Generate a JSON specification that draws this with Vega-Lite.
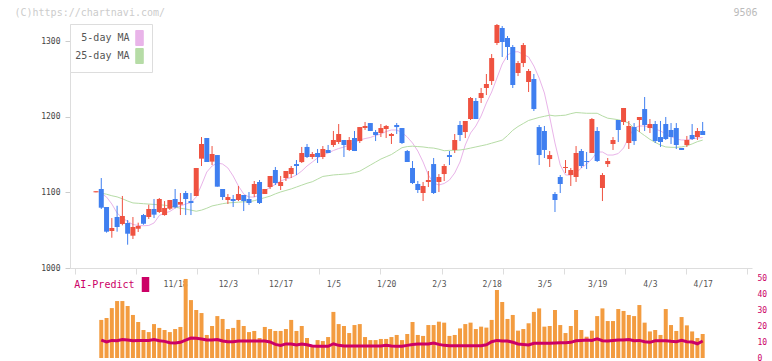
{
  "$schema": "https://vega.github.io/schema/vega-lite/v6.json",
  "width": 682,
  "height": 334,
  "autosize": {"type": "none"},
  "padding": {"left": 70, "top": 24, "right": 20, "bottom": 3},
  "background": "white",
  "config": {"view": {"stroke": null}, "font": "DejaVu Sans Mono"},
  "data": {"values": [
    {"i":0,"o":1100,"h":1101.5,"l":1100,"c":1101.5},
    {"i":1,"o":1104.4,"h":1118.9,"l":1078,"c":1079.7,"v":23.8,"ai":11.2,"m5":1098.7,"m25":1099},
    {"i":2,"o":1080.6,"h":1080.6,"l":1046.7,"c":1048,"v":25,"ai":10,"m5":1093.8,"m25":1097.5},
    {"i":3,"o":1048.9,"h":1066,"l":1040,"c":1052.9,"v":31.2,"ai":11,"m5":1084.6,"m25":1095.5},
    {"i":4,"o":1067.4,"h":1082.3,"l":1048,"c":1054.2,"v":35.6,"ai":10.8,"m5":1072.7,"m25":1094},
    {"i":5,"o":1058.2,"h":1095.2,"l":1056.4,"c":1068.7,"v":35.6,"ai":11.6,"m5":1066.1,"m25":1091.5},
    {"i":6,"o":1059.5,"h":1063.4,"l":1030.8,"c":1045.3,"v":32.5,"ai":11.2,"m5":1061.5,"m25":1088.5},
    {"i":7,"o":1042.7,"h":1067.4,"l":1038.3,"c":1054.2,"v":26.9,"ai":10.8,"m5":1057.5,"m25":1086},
    {"i":8,"o":1051.9,"h":1059.9,"l":1047.6,"c":1055.5,"v":22.5,"ai":11,"m5":1056.2,"m25":1085.5},
    {"i":9,"o":1070,"h":1071.4,"l":1057.2,"c":1058.5,"v":17.5,"ai":11,"m5":1055.9,"m25":1085},
    {"i":10,"o":1067.4,"h":1083.7,"l":1064.8,"c":1078,"v":16.2,"ai":11,"m5":1056.2,"m25":1084.5},
    {"i":11,"o":1078,"h":1091.2,"l":1066,"c":1070.5,"v":21.2,"ai":11.6,"m5":1059.5,"m25":1084},
    {"i":12,"o":1074,"h":1092.5,"l":1072.7,"c":1091.2,"v":18.8,"ai":10.8,"m5":1069.4,"m25":1083.5},
    {"i":13,"o":1070,"h":1088.5,"l":1069.1,"c":1079.3,"v":17.5,"ai":10.4,"m5":1072.7,"m25":1083},
    {"i":14,"o":1078.4,"h":1089.9,"l":1076.7,"c":1089.9,"v":16.2,"ai":9.6,"m5":1074.7,"m25":1082},
    {"i":15,"o":1091.2,"h":1104.4,"l":1078.9,"c":1080.2,"v":18.1,"ai":9.4,"m5":1079.3,"m25":1080.5},
    {"i":16,"o":1083.7,"h":1099.1,"l":1070,"c":1087.2,"v":19.4,"ai":9.8,"m5":1081.9,"m25":1079},
    {"i":17,"o":1099.1,"h":1101.8,"l":1070,"c":1091.2,"v":49.4,"ai":11.2,"m5":1084.6,"m25":1078},
    {"i":18,"o":1088.5,"h":1099.1,"l":1070,"c":1085.9,"v":36.2,"ai":12.5,"m5":1086.6,"m25":1076.5},
    {"i":19,"o":1095.2,"h":1132.2,"l":1095.2,"c":1132.2,"v":30,"ai":12.3,"m5":1093.8,"m25":1075},
    {"i":20,"o":1144.5,"h":1173.1,"l":1134.8,"c":1163.9,"v":28.1,"ai":11.9,"m5":1109.7,"m25":1076.5},
    {"i":21,"o":1171.8,"h":1171.8,"l":1140.1,"c":1140.1,"v":14.4,"ai":11.2,"m5":1126.9,"m25":1079},
    {"i":22,"o":1140.6,"h":1161.2,"l":1136.1,"c":1150.7,"v":20,"ai":11.2,"m5":1134.8,"m25":1082},
    {"i":23,"o":1149.3,"h":1149.3,"l":1107.5,"c":1107.5,"v":26.2,"ai":11.6,"m5":1138.8,"m25":1083.5},
    {"i":24,"o":1104.4,"h":1104.4,"l":1089.9,"c":1093.8,"v":24.4,"ai":10.6,"m5":1137.4,"m25":1085},
    {"i":25,"o":1089.9,"h":1097.8,"l":1084.6,"c":1093.8,"v":18.1,"ai":10.2,"m5":1132.2,"m25":1086},
    {"i":26,"o":1091.2,"h":1096.5,"l":1080.6,"c":1088.5,"v":18.8,"ai":10.2,"m5":1121.6,"m25":1086.5},
    {"i":27,"o":1089.9,"h":1108.4,"l":1088.5,"c":1097.8,"v":23.8,"ai":10.6,"m5":1108.4,"m25":1087},
    {"i":28,"o":1096.5,"h":1096.5,"l":1075.3,"c":1088.5,"v":20,"ai":10.6,"m5":1097.8,"m25":1087.5},
    {"i":29,"o":1091.2,"h":1100.4,"l":1083.3,"c":1085.9,"v":16.2,"ai":10.6,"m5":1093.8,"m25":1087.5},
    {"i":30,"o":1097.8,"h":1115,"l":1093.8,"c":1111,"v":16.9,"ai":10.6,"m5":1093.8,"m25":1089},
    {"i":31,"o":1113.7,"h":1116.3,"l":1084.6,"c":1085.9,"v":12.5,"ai":10.6,"m5":1096.5,"m25":1091},
    {"i":32,"o":1097.8,"h":1104.4,"l":1097.8,"c":1104.4,"v":19.4,"ai":10.6,"m5":1101.8,"m25":1093},
    {"i":33,"o":1107,"h":1121.6,"l":1104.4,"c":1121.6,"v":18.1,"ai":10,"m5":1107,"m25":1095},
    {"i":34,"o":1129.5,"h":1133.5,"l":1109.7,"c":1112.3,"v":16.9,"ai":8.5,"m5":1110.4,"m25":1098},
    {"i":35,"o":1108.4,"h":1121.6,"l":1103.1,"c":1113.7,"v":16.9,"ai":7.9,"m5":1115,"m25":1100.5},
    {"i":36,"o":1118.9,"h":1128.2,"l":1115,"c":1128.2,"v":18.1,"ai":8.8,"m5":1117.6,"m25":1102.5},
    {"i":37,"o":1124.2,"h":1134.8,"l":1119,"c":1132.2,"v":23.8,"ai":8.8,"m5":1119.6,"m25":1104.5},
    {"i":38,"o":1137.4,"h":1142.7,"l":1122.9,"c":1134.8,"v":16.9,"ai":8.1,"m5":1122.9,"m25":1107},
    {"i":39,"o":1140,"h":1160,"l":1138.8,"c":1152,"v":20,"ai":8.8,"m5":1128.2,"m25":1109.5},
    {"i":40,"o":1160,"h":1163.9,"l":1145.4,"c":1146.7,"v":12.5,"ai":8.3,"m5":1134.8,"m25":1112},
    {"i":41,"o":1146.7,"h":1153.3,"l":1144,"c":1150.7,"v":8.1,"ai":7.5,"m5":1140.1,"m25":1114},
    {"i":42,"o":1152,"h":1157.3,"l":1138.8,"c":1146.7,"v":11.2,"ai":7.3,"m5":1145.4,"m25":1117.5},
    {"i":43,"o":1146.7,"h":1161.2,"l":1144,"c":1157.3,"v":10.6,"ai":7.3,"m5":1149.3,"m25":1121},
    {"i":44,"o":1156,"h":1162.6,"l":1152,"c":1152,"v":13.1,"ai":7.3,"m5":1152,"m25":1122},
    {"i":45,"o":1162.6,"h":1181.1,"l":1160,"c":1169.2,"v":28.8,"ai":8.9,"m5":1155.3,"m25":1123},
    {"i":46,"o":1166.5,"h":1190.3,"l":1163.9,"c":1177.1,"v":21.2,"ai":7.9,"m5":1157.9,"m25":1123.5},
    {"i":47,"o":1169.2,"h":1169.2,"l":1146.7,"c":1162.6,"v":20,"ai":7.5,"m5":1159.9,"m25":1124},
    {"i":48,"o":1156,"h":1173.1,"l":1154.6,"c":1169.2,"v":15.6,"ai":7.5,"m5":1162.6,"m25":1124.6},
    {"i":49,"o":1171.8,"h":1181.1,"l":1154.6,"c":1154.6,"v":20.6,"ai":7.5,"m5":1165.9,"m25":1126},
    {"i":50,"o":1167.8,"h":1186.3,"l":1165.2,"c":1186.3,"v":21.2,"ai":7.5,"m5":1169.2,"m25":1128},
    {"i":51,"o":1185,"h":1193,"l":1182.4,"c":1187.7,"v":13.1,"ai":7.5,"m5":1171.1,"m25":1132},
    {"i":52,"o":1191.6,"h":1191.6,"l":1181.1,"c":1181.1,"v":11.2,"ai":7.5,"m5":1172.5,"m25":1136},
    {"i":53,"o":1179.7,"h":1182.4,"l":1167.8,"c":1175.8,"v":11.2,"ai":7.5,"m5":1175.1,"m25":1140},
    {"i":54,"o":1178.4,"h":1190.3,"l":1173.1,"c":1185,"v":11.9,"ai":7.5,"m5":1177.1,"m25":1144},
    {"i":55,"o":1183.7,"h":1189,"l":1171.8,"c":1187.7,"v":11.9,"ai":7.9,"m5":1180.4,"m25":1147},
    {"i":56,"o":1174.5,"h":1178.4,"l":1163.9,"c":1177.1,"v":13.1,"ai":7.5,"m5":1182.4,"m25":1150},
    {"i":57,"o":1189,"h":1191.6,"l":1177.1,"c":1186.3,"v":14.4,"ai":7.3,"m5":1182.4,"m25":1154.5},
    {"i":58,"o":1185,"h":1185,"l":1163.9,"c":1165.2,"v":11.2,"ai":7.3,"m5":1179.1,"m25":1159},
    {"i":59,"o":1154.6,"h":1156,"l":1140.1,"c":1140.1,"v":15,"ai":7.9,"m5":1173.1,"m25":1160.5},
    {"i":60,"o":1132.2,"h":1141.4,"l":1111,"c":1112.3,"v":22.5,"ai":8.5,"m5":1165.2,"m25":1161},
    {"i":61,"o":1111,"h":1115,"l":1099.1,"c":1103.1,"v":14.4,"ai":8.8,"m5":1154.6,"m25":1160.5},
    {"i":62,"o":1099.1,"h":1113.7,"l":1088.5,"c":1108.4,"v":13.8,"ai":8.8,"m5":1140.1,"m25":1160},
    {"i":63,"o":1113.7,"h":1128.2,"l":1107,"c":1116.3,"v":20.6,"ai":8.8,"m5":1122.9,"m25":1159},
    {"i":64,"o":1137.4,"h":1145.4,"l":1097.8,"c":1099.1,"v":20.6,"ai":9.4,"m5":1112.3,"m25":1158.5},
    {"i":65,"o":1113.7,"h":1124.2,"l":1100.4,"c":1120.3,"v":22.7,"ai":8.5,"m5":1109.7,"m25":1157},
    {"i":66,"o":1124.2,"h":1137.4,"l":1115,"c":1134.8,"v":22.1,"ai":7.9,"m5":1111.7,"m25":1155},
    {"i":67,"o":1149.3,"h":1154.6,"l":1136.1,"c":1146.7,"v":13.8,"ai":7.7,"m5":1116.3,"m25":1155.5},
    {"i":68,"o":1156,"h":1177.1,"l":1152,"c":1169.2,"v":14.4,"ai":7.7,"m5":1125.6,"m25":1155.5},
    {"i":69,"o":1189,"h":1194.3,"l":1167.8,"c":1175.8,"v":18.5,"ai":7.7,"m5":1140.1,"m25":1156},
    {"i":70,"o":1179.7,"h":1194.3,"l":1171.8,"c":1194.3,"v":21.2,"ai":7.7,"m5":1162.6,"m25":1157},
    {"i":71,"o":1196.9,"h":1226,"l":1195.6,"c":1224.7,"v":22.1,"ai":7.7,"m5":1178.4,"m25":1158.5},
    {"i":72,"o":1220.7,"h":1224.7,"l":1196.9,"c":1196.9,"v":18.1,"ai":7.7,"m5":1187.7,"m25":1160},
    {"i":73,"o":1224.7,"h":1237.9,"l":1218.1,"c":1231.3,"v":19.6,"ai":7.7,"m5":1200.9,"m25":1161.5},
    {"i":74,"o":1237.9,"h":1256.4,"l":1228.6,"c":1243.2,"v":19,"ai":8.3,"m5":1218.1,"m25":1163},
    {"i":75,"o":1247.1,"h":1282.8,"l":1241.9,"c":1277.5,"v":23.8,"ai":10.2,"m5":1232.6,"m25":1165},
    {"i":76,"o":1297.4,"h":1322.5,"l":1294.7,"c":1321.2,"v":42.5,"ai":11,"m5":1251.1,"m25":1167},
    {"i":77,"o":1317.2,"h":1319.8,"l":1278.9,"c":1298.7,"v":35,"ai":10.6,"m5":1269.6,"m25":1169},
    {"i":78,"o":1304,"h":1306.6,"l":1274.9,"c":1292.1,"v":24.4,"ai":10.6,"m5":1281.5,"m25":1175},
    {"i":79,"o":1292.1,"h":1294.7,"l":1237.9,"c":1241.9,"v":26.9,"ai":9.8,"m5":1285.5,"m25":1182},
    {"i":80,"o":1257.7,"h":1273.6,"l":1253.7,"c":1270.9,"v":17.1,"ai":8.8,"m5":1285.9,"m25":1187},
    {"i":81,"o":1270.9,"h":1297.4,"l":1265.6,"c":1294.7,"v":18.1,"ai":8.5,"m5":1282.2,"m25":1191},
    {"i":82,"o":1245.8,"h":1263,"l":1232.6,"c":1260.4,"v":21.7,"ai":8.1,"m5":1278.9,"m25":1195},
    {"i":83,"o":1249.8,"h":1256.4,"l":1207.5,"c":1210.1,"v":28.8,"ai":9.2,"m5":1267,"m25":1197},
    {"i":84,"o":1186.3,"h":1189,"l":1136.1,"c":1149.3,"v":31,"ai":9.2,"m5":1251.1,"m25":1199},
    {"i":85,"o":1181.1,"h":1187.7,"l":1145.4,"c":1156,"v":19.6,"ai":9.2,"m5":1231.3,"m25":1200.5},
    {"i":86,"o":1144,"h":1154.6,"l":1133.5,"c":1149.3,"v":20,"ai":9.2,"m5":1199.6,"m25":1202},
    {"i":87,"o":1097.8,"h":1100.4,"l":1074,"c":1089.9,"v":30,"ai":9.4,"m5":1165.2,"m25":1201},
    {"i":88,"o":1120.3,"h":1122.9,"l":1099.1,"c":1111,"v":20.6,"ai":9.6,"m5":1136.1,"m25":1201.5},
    {"i":89,"o":1132.2,"h":1142.7,"l":1125.5,"c":1133.5,"v":15.6,"ai":9.6,"m5":1122.9,"m25":1202},
    {"i":90,"o":1122.9,"h":1132.2,"l":1108.4,"c":1129.5,"v":20,"ai":9.8,"m5":1122.9,"m25":1204},
    {"i":91,"o":1120.3,"h":1161.2,"l":1113.7,"c":1152,"v":30,"ai":10.8,"m5":1125.6,"m25":1205.5},
    {"i":92,"o":1154.6,"h":1157.3,"l":1132.2,"c":1134.8,"v":17.5,"ai":11,"m5":1132.2,"m25":1205},
    {"i":93,"o":1141.4,"h":1153.3,"l":1130.8,"c":1140.1,"v":13.3,"ai":11.2,"m5":1137.4,"m25":1204.5},
    {"i":94,"o":1152,"h":1198.2,"l":1152,"c":1196.9,"v":17.1,"ai":11,"m5":1144.1,"m25":1204.5},
    {"i":95,"o":1181.1,"h":1186.3,"l":1140.1,"c":1141.4,"v":26.2,"ai":12,"m5":1153.3,"m25":1204.5},
    {"i":96,"o":1105.7,"h":1125.5,"l":1088.5,"c":1122.9,"v":31,"ai":10.8,"m5":1153.3,"m25":1201},
    {"i":97,"o":1137.4,"h":1145.4,"l":1133.5,"c":1141.4,"v":23.1,"ai":10.6,"m5":1149.3,"m25":1198},
    {"i":98,"o":1163.9,"h":1173.1,"l":1156,"c":1169.2,"v":23.1,"ai":11,"m5":1149.3,"m25":1197},
    {"i":99,"o":1195.6,"h":1195.6,"l":1166.5,"c":1182.4,"v":30.6,"ai":11.2,"m5":1151.3,"m25":1196},
    {"i":100,"o":1193,"h":1211.5,"l":1189,"c":1211.5,"v":29.4,"ai":11.2,"m5":1158.6,"m25":1194},
    {"i":101,"o":1165.2,"h":1194.3,"l":1157.3,"c":1187.7,"v":26.9,"ai":11.5,"m5":1173.1,"m25":1191.5},
    {"i":102,"o":1186.3,"h":1191.6,"l":1162.6,"c":1167.8,"v":26.2,"ai":10.8,"m5":1185,"m25":1185},
    {"i":103,"o":1195.6,"h":1199.6,"l":1179.7,"c":1199.6,"v":33.1,"ai":11,"m5":1187.7,"m25":1180},
    {"i":104,"o":1210.1,"h":1226,"l":1181.1,"c":1189,"v":22.1,"ai":10.2,"m5":1187.7,"m25":1175},
    {"i":105,"o":1185,"h":1196.9,"l":1178.4,"c":1190.3,"v":16.6,"ai":9.8,"m5":1186.3,"m25":1170},
    {"i":106,"o":1190.3,"h":1194.3,"l":1165.2,"c":1167.8,"v":17.5,"ai":10.8,"m5":1183.7,"m25":1166},
    {"i":107,"o":1173.1,"h":1194.3,"l":1160,"c":1166.5,"v":14.4,"ai":10.8,"m5":1181.1,"m25":1162.5},
    {"i":108,"o":1190.3,"h":1199.6,"l":1169.2,"c":1170.5,"v":30.6,"ai":10.8,"m5":1177.1,"m25":1160},
    {"i":109,"o":1182.4,"h":1191.6,"l":1163.9,"c":1173.1,"v":20.6,"ai":10.4,"m5":1173.8,"m25":1159.5},
    {"i":110,"o":1185,"h":1191.6,"l":1157.3,"c":1162.6,"v":16.9,"ai":10.2,"m5":1170.5,"m25":1159.5},
    {"i":111,"o":1158.6,"h":1158.6,"l":1156,"c":1156,"v":25.6,"ai":11,"m5":1169.2,"m25":1160},
    {"i":112,"o":1162.6,"h":1174.5,"l":1160,"c":1169.2,"v":20.4,"ai":10.2,"m5":1169.2,"m25":1161.5},
    {"i":113,"o":1175.8,"h":1190.3,"l":1169.2,"c":1170.5,"v":16.6,"ai":10,"m5":1170.5,"m25":1164},
    {"i":114,"o":1173.1,"h":1185,"l":1169.2,"c":1181.1,"v":12.5,"ai":8.9,"m5":1171.8,"m25":1167},
    {"i":115,"o":1181.1,"h":1193,"l":1175.8,"c":1175.8,"v":15,"ai":10.6,"m5":1172.5,"m25":1169}
  ]},
  "layer": [
    {
      "encoding": {
        "x": {"field": "i", "type": "quantitative",
          "scale": {"domain": [-3.98, 123.4], "nice": false, "zero": false},
          "axis": {"orient": "bottom", "offset": -90, "values": [-3.98, 7.6, 19.18, 30.76, 42.34, 53.92, 65.5, 77.08, 88.66, 100.24, 111.82, 123.4],
            "labels": false, "ticks": true, "tickSize": 6, "tickColor": "#dddddd", "domain": true, "domainColor": "#dddddd", "grid": false, "title": null}
        }
      },
      "layer": [
        {
          "mark": {"type": "line", "strokeWidth": 1},
          "encoding": {
            "y": {"field": "m5", "type": "quantitative", "scale": {"domain": [1000, 1322.5], "range": [244, 0], "nice": false, "zero": false},
              "axis": {"orient": "left", "values": [1000, 1100, 1200, 1300], "format": "d", "domainColor": "#dddddd", "tickColor": "#cccccc", "tickSize": 5,
                "labelFont": "DejaVu Sans Mono", "labelFontSize": 8, "labelColor": "#444444", "labelPadding": 5, "grid": false,
                "title": "(C)https://chartnavi.com/", "titleAngle": 0, "titleX": -56, "titleY": -12, "titleAlign": "left", "titleBaseline": "middle",
                "titleColor": "#cccccc", "titleFont": "DejaVu Sans Mono", "titleFontSize": 10, "titleFontWeight": "normal"}},
            "color": {"datum": "5-day MA", "type": "nominal",
              "scale": {"domain": ["5-day MA", "25-day MA"], "range": ["#e9b4e9", "#b6dca6"]},
              "legend": {"orient": "none", "legendX": 0, "legendY": 0, "title": null, "direction": "vertical",
                "padding": 6, "fillColor": "white", "strokeColor": "#dddddd",
                "symbolType": "M-0.5,-1H0.5V1H-0.5Z", "symbolSize": 225, "symbolStrokeWidth": 1, "symbolStrokeColor": "#555555",
                "labelFont": "DejaVu Sans Mono", "labelFontSize": 10, "labelColor": "#555555", "labelAlign": "right",
                "labelOffset": -18, "symbolOffset": 55.5, "rowPadding": -3,
                "encode": {"symbols": {"update": {"fill": {"scale": "color", "field": "value"}, "stroke": {"value": "#555555"}, "strokeWidth": {"value": 1}, "opacity": {"value": 1}}}}
              }
            }
          }
        },
        {
          "mark": {"type": "line", "strokeWidth": 1},
          "encoding": {
            "y": {"field": "m25", "type": "quantitative", "scale": {"domain": [1000, 1322.5], "range": [244, 0], "nice": false, "zero": false}},
            "color": {"datum": "25-day MA", "type": "nominal"}
          }
        },
        {
          "mark": {"type": "rule", "strokeWidth": 1},
          "encoding": {
            "y": {"field": "l", "type": "quantitative", "scale": {"domain": [1000, 1322.5], "range": [244, 0], "nice": false, "zero": false}},
            "y2": {"field": "h"},
            "color": {"condition": {"test": "datum.c >= datum.o", "value": "#ef5240"}, "value": "#3f7ff0"}
          }
        },
        {
          "mark": {"type": "bar", "size": 5},
          "encoding": {
            "y": {"field": "o", "type": "quantitative", "scale": {"domain": [1000, 1322.5], "range": [244, 0], "nice": false, "zero": false}},
            "y2": {"field": "c"},
            "color": {"condition": {"test": "datum.c >= datum.o", "value": "#ef5240"}, "value": "#3f7ff0"}
          }
        }
      ]
    },
    {
      "encoding": {
        "x": {"field": "i", "type": "quantitative",
          "scale": {"domain": [-3.98, 123.4], "nice": false, "zero": false},
          "axis": {"orient": "bottom", "offset": -90, "values": [15, 25, 35, 45, 55, 65, 75, 85, 95, 105, 115],
            "labelExpr": "['11/18','12/3','12/17','1/5','1/20','2/3','2/18','3/5','3/19','4/3','4/17'][(datum.value-15)/10]",
            "domain": false, "ticks": false, "tickSize": 0, "labelPadding": 12, "labelFont": "DejaVu Sans Mono", "labelFontSize": 8,
            "labelColor": "#555555", "grid": false, "title": null, "labelOverlap": false, "labelFlush": false}
        }
      },
      "layer": [
        {
          "mark": {"type": "bar", "size": 4, "color": "#f39c40"},
          "encoding": {
            "y": {"field": "v", "type": "quantitative", "scale": {"domain": [0, 50], "range": [334, 254], "nice": false, "zero": true},
              "axis": {"orient": "right", "values": [0, 10, 20, 30, 40, 50], "domain": false, "ticks": false, "tickSize": 0, "labelPadding": 5,
                "labelFont": "DejaVu Sans Mono", "labelFontSize": 8, "labelColor": "#cc0066", "grid": false,
                "title": "9506", "titleAngle": 0, "titleX": 5, "titleY": -12, "titleAlign": "right", "titleBaseline": "middle",
                "titleColor": "#bbbbbb", "titleFont": "DejaVu Sans Mono", "titleFontSize": 10, "titleFontWeight": "normal"}}
          }
        },
        {
          "mark": {"type": "line", "strokeWidth": 3},
          "encoding": {
            "y": {"field": "ai", "type": "quantitative", "scale": {"domain": [0, 50], "range": [334, 254], "nice": false, "zero": true}},
            "stroke": {"datum": "AI-Predict", "type": "nominal", "scale": {"domain": ["AI-Predict"], "range": ["#cc0066"]},
              "legend": {"orient": "none", "legendX": 5, "legendY": 253, "title": null, "direction": "vertical", "padding": 0,
                "symbolType": "M-0.5,-1H0.5V1H-0.5Z", "symbolSize": 225, "symbolStrokeWidth": 0,
                "labelFont": "DejaVu Sans Mono", "labelFontSize": 10, "labelColor": "#cc0066", "labelAlign": "right",
                "labelOffset": -18.5, "symbolOffset": 63,
                "encode": {"symbols": {"update": {"fill": {"scale": "stroke", "field": "value"}, "stroke": {"value": "#cc0066"}, "strokeWidth": {"value": 0}, "opacity": {"value": 1}}}}
              }
            }
          }
        }
      ]
    }
  ],
  "resolve": {"scale": {"y": "independent"}, "axis": {"x": "independent", "y": "independent"}}
}
